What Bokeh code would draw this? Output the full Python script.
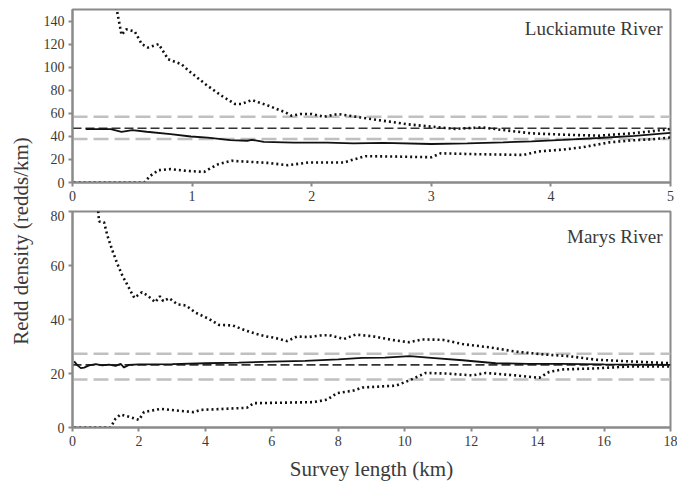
from bokeh.plotting import figure
from bokeh.layouts import row, column
from bokeh.models import Range1d, SingleIntervalTicker, Label
from bokeh.embed import file_html
from bokeh.resources import INLINE
import math

# ---------------- Data: Luckiamute River (top panel) ----------------
luck_mean = 47.1
luck_ci_hi = 57.1
luck_ci_lo = 37.8
luck_xmax = 5.0

luck_solid_x = [0.11, 0.32, 0.41, 0.5, 0.62, 0.82, 0.99, 1.13, 1.32, 1.46, 1.5, 1.6, 1.85, 2.13,
                2.35, 2.6, 3.0, 3.3, 3.6, 3.84, 4.1, 4.4, 4.7, 5.0]
luck_solid_y = [46.2, 46.2, 43.9, 45.4, 44.0, 41.9, 39.9, 38.9, 36.7, 36.2, 37.0, 35.2, 34.6, 34.6,
                34.0, 34.3, 33.4, 34.0, 34.8, 35.7, 37.0, 38.6, 40.5, 43.0]

luck_hi_x = [0.33, 0.37, 0.41, 0.45, 0.52, 0.58, 0.63, 0.72, 0.8, 0.91, 0.99, 1.13, 1.25, 1.36, 1.41,
             1.5, 1.64, 1.78, 1.83, 1.91, 2.0, 2.1, 2.22, 2.4, 2.6, 2.8, 3.0, 3.2, 3.42, 3.6, 3.84,
             4.1, 4.4, 4.67, 4.85, 5.0]
luck_hi_y = [160, 150, 128, 132.8, 131, 119.9, 117, 120, 106.9, 102.6, 95.3, 83.8, 75, 68, 68,
             71.5, 66.5, 60.8, 57.9, 59.4, 59.4, 57, 59.4, 56.5, 53.5, 50.5, 48.4, 46.5, 47.8, 45.5,
             42.6, 41.5, 40.6, 42.6, 44.5, 46.4]

luck_lo_x = [0.01, 0.6, 0.65, 0.72, 0.82, 0.96, 1.1, 1.14, 1.22, 1.33, 1.47, 1.63, 1.8, 1.97, 2.13,
             2.27, 2.35, 2.45, 2.7, 3.0, 3.08, 3.4, 3.77, 3.9, 4.1, 4.26, 4.49, 4.67, 4.85, 5.0]
luck_lo_y = [0, 0, 5.8, 10.7, 11.6, 10.0, 9.2, 11.6, 15.9, 18.8, 18.0, 17.0, 15.0, 17.3, 17.3,
             17.3, 20.0, 22.8, 22.5, 21.9, 25.3, 24.5, 23.9, 27.0, 28.5, 30.5, 34.8, 36.5, 37.5, 39.0]

# ---------------- Data: Marys River (bottom panel) ----------------
marys_mean = 23.2
marys_ci_hi = 27.3
marys_ci_lo = 17.8
marys_xmax = 18.0

marys_solid_x = [0.05, 0.15, 0.25, 0.35, 0.5, 0.7, 0.9, 1.1, 1.3, 1.45, 1.55, 1.7, 2.0, 3.0, 4.0,
                 5.0, 6.0, 7.0, 8.0, 8.72, 9.4, 10.15, 10.8, 11.74, 12.74, 13.7, 14.75, 16.0, 17.0, 18.0]
marys_solid_y = [24.5, 23.0, 22.0, 22.2, 23.0, 23.5, 23.0, 23.3, 22.8, 23.6, 22.2, 23.2, 23.4, 23.5,
                 23.8, 24.0, 24.4, 24.7, 25.2, 25.8, 25.9, 26.4, 25.8, 24.9, 23.8, 23.6, 23.6, 23.4,
                 23.3, 23.2]

marys_hi_x = [0.76, 0.8, 0.95, 1.05, 1.2, 1.35, 1.5, 1.66, 1.86, 2.09, 2.26, 2.49, 2.63, 2.73, 2.91,
              3.16, 3.41, 3.71, 4.11, 4.41, 4.82, 5.22, 5.52, 5.8, 6.1, 6.46, 6.76, 7.1, 7.46, 7.72,
              8.17, 8.52, 9.03, 9.73, 10.13, 10.53, 11.14, 11.74, 12.54, 13.35, 14.15, 14.95,
              15.76, 16.76, 18.0]
marys_hi_y = [82, 76.3, 76, 71.1, 65.6, 60.6, 56.3, 52.6, 48, 50.1, 48.9, 46.4, 48.6, 46.8, 47.9,
              45.6, 45.2, 42.5, 40.2, 38, 37.8, 35.9, 34.7, 33.8, 33.2, 32, 33.7, 33.5, 34.1, 34.2,
              32.8, 34.4, 33.8, 32.2, 31.6, 32.6, 32.5, 30.9, 29.7, 28.1, 27.1, 26.4, 25.1, 24.5,
              23.8]

marys_lo_x = [0.05, 1.15, 1.29, 1.44, 1.7, 2.0, 2.15, 2.65, 3.2, 3.65, 3.85, 5.25, 5.45, 7.26, 7.66,
              7.96, 8.46, 8.72, 9.73, 10.13, 10.63, 11.24, 12.04, 12.44, 13.35, 14.05, 14.35,
              14.75, 15.76, 16.76, 18.0]
marys_lo_y = [0, 0, 3.2, 4.8, 4.0, 2.8, 5.7, 6.9, 6.2, 5.7, 6.5, 7.3, 9.0, 9.4, 10.3, 12.7, 13.7,
              14.8, 15.5, 17.4, 20.2, 20.0, 19.3, 20.2, 19.3, 18.4, 20.6, 21.5, 21.9, 22.6, 22.6]

# ---------------- Styling helpers ----------------
SERIF = "Liberation Serif"
AXIS_GRAY = "#8a8a8a"
TEXT_COL = "#3a3a3a"


def style(p, xint, yint):
    p.xgrid.visible = False
    p.ygrid.visible = False
    p.outline_line_color = AXIS_GRAY
    p.outline_line_width = 2
    for ax in (p.xaxis[0], p.yaxis[0]):
        ax.axis_line_color = AXIS_GRAY
        ax.axis_line_width = 2
        ax.major_tick_line_color = AXIS_GRAY
        ax.major_tick_line_width = 2
        ax.major_tick_out = 4
        ax.major_tick_in = 0
        ax.minor_tick_out = 0
        ax.minor_tick_in = 0
        ax.major_label_text_font = SERIF
        ax.major_label_text_font_size = "14px"
        ax.major_label_text_color = TEXT_COL
        ax.major_label_standoff = 4
    p.xaxis[0].ticker = SingleIntervalTicker(interval=xint)
    p.yaxis[0].ticker = SingleIntervalTicker(interval=yint)


def draw(p, xmax, mean, hi, lo, sx, sy, hx, hy, lx, ly):
    p.line([0, xmax], [hi, hi], line_color="#c0c0c0", line_width=2.5, line_dash="15 6")
    p.line([0, xmax], [lo, lo], line_color="#c0c0c0", line_width=2.5, line_dash="15 6")
    p.line([0, xmax], [mean, mean], line_color="#333333", line_width=1.6, line_dash="9 4")
    p.line(sx, sy, line_color="#111111", line_width=1.8)
    p.line(hx, hy, line_color="#111111", line_width=2.6, line_dash="2 3")
    p.line(lx, ly, line_color="#111111", line_width=2.6, line_dash="2 3")


W = 639

p1 = figure(width=W, height=210, output_backend="svg", toolbar_location=None,
            x_range=Range1d(0, luck_xmax), y_range=Range1d(0, 150),
            min_border_left=34, min_border_right=7, min_border_top=9, min_border_bottom=28)
style(p1, 1, 20)
draw(p1, luck_xmax, luck_mean, luck_ci_hi, luck_ci_lo,
     luck_solid_x, luck_solid_y, luck_hi_x, luck_hi_y, luck_lo_x, luck_lo_y)
p1.add_layout(Label(x=luck_xmax, y=150, x_offset=-8, y_offset=-8, text="Luckiamute River",
                    text_align="right", text_baseline="top", text_font=SERIF,
                    text_font_size="19px", text_color=TEXT_COL))

p2 = figure(width=W, height=275, output_backend="svg", toolbar_location=None,
            x_range=Range1d(0, marys_xmax), y_range=Range1d(0, 80),
            min_border_left=34, min_border_right=7, min_border_top=1, min_border_bottom=58)
style(p2, 2, 20)
p2.xaxis.axis_label = "Survey length (km)"
p2.xaxis.axis_label_text_font = SERIF
p2.xaxis.axis_label_text_font_size = "21px"
p2.xaxis.axis_label_text_font_style = "normal"
p2.xaxis.axis_label_text_color = TEXT_COL
p2.xaxis.axis_label_standoff = 8
draw(p2, marys_xmax, marys_mean, marys_ci_hi, marys_ci_lo,
     marys_solid_x, marys_solid_y, marys_hi_x, marys_hi_y, marys_lo_x, marys_lo_y)
p2.add_layout(Label(x=marys_xmax, y=80, x_offset=-8, y_offset=-14, text="Marys River",
                    text_align="right", text_baseline="top", text_font=SERIF,
                    text_font_size="19px", text_color=TEXT_COL))

# y-axis label figure
pl = figure(width=38, height=485, output_backend="svg", toolbar_location=None,
            x_range=Range1d(0, 1), y_range=Range1d(0, 1),
            min_border=0, x_axis_location=None, y_axis_location=None)
pl.outline_line_color = None
pl.xgrid.visible = False
pl.ygrid.visible = False
pl.add_layout(Label(x=0.55, y=0.5, y_offset=2, text="Redd density (redds/km)", angle=math.pi / 2,
                    text_align="center", text_baseline="middle", text_font=SERIF,
                    text_font_size="21px", text_color=TEXT_COL))

layout = row(pl, column(p1, p2))
open("out.html", "w").write(file_html(layout, INLINE))
